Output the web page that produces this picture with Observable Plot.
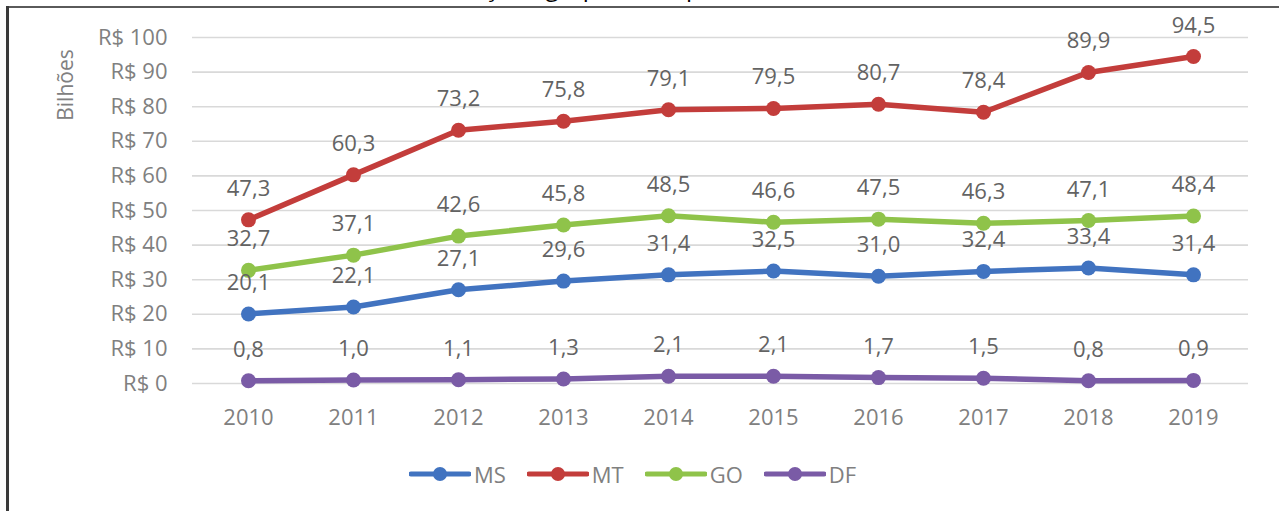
<!DOCTYPE html>
<html>
<head>
<meta charset="utf-8">
<script src="https://cdn.jsdelivr.net/npm/d3@7"></script>
<script src="https://cdn.jsdelivr.net/npm/@observablehq/plot@0.6"></script>
<style>
  html, body { margin: 0; padding: 0; background: #fff; }
  #wrap { position: relative; width: 1279px; height: 511px; overflow: hidden; font-family: "Open Sans", sans-serif; }
  #frameTop { position: absolute; left: 6px; top: 6px; width: 1273px; height: 0; border-top: 2px solid #5a5a5a; }
  #frameLeft { position: absolute; left: 6px; top: 6px; width: 0; height: 505px; border-left: 3px solid #3a3a3a; }
  #title { position: absolute; left: 249px; top: -30px; font-size: 24px; color: #000; white-space: nowrap; }
  #chart { position: absolute; left: 0; top: 0; }
  #ylab { position: absolute; left: 65px; top: 85px; transform: translate(-50%, -50%) rotate(-90deg); font-size: 21px; color: #808080; white-space: nowrap; }
  #legend { position: absolute; top: 459px; left: 0; width: 1265px; display: flex; justify-content: center; gap: 21px; }
  .item { display: flex; align-items: center; font-size: 22px; color: #808080; }
  .item svg { margin-right: 3px; }
</style>
</head>
<body>
<div id="wrap">
  <div id="title">Valor Bruto da Produção Agropecuária por estado</div>
  <div id="chart"></div>
  <div id="ylab">Bilhões</div>
  <div id="legend"></div>
  <div id="frameTop"></div>
  <div id="frameLeft"></div>
</div>
<script>
const years = ["2010","2011","2012","2013","2014","2015","2016","2017","2018","2019"];
const states = ["MS","MT","GO","DF"];
const colors = ["#4173c0","#c33d3b","#8fc34a","#7a5ba6"];
const msValues = [20.1, 22.1, 27.1, 29.6, 31.4, 32.5, 31.0, 32.4, 33.4, 31.4];
const mtValues = [47.3, 60.3, 73.2, 75.8, 79.1, 79.5, 80.7, 78.4, 89.9, 94.5];
const goValues = [32.7, 37.1, 42.6, 45.8, 48.5, 46.6, 47.5, 46.3, 47.1, 48.4];
const dfValues = [0.8, 1.0, 1.1, 1.3, 2.1, 2.1, 1.7, 1.5, 0.8, 0.9];
const yTicks = [0, 10, 20, 30, 40, 50, 60, 70, 80, 90, 100];

const series = [msValues, mtValues, goValues, dfValues];
const data = [];
states.forEach((s, i) => years.forEach((y, j) => data.push({state: s, year: y, value: series[i][j]})));

const fmt = v => v.toFixed(1).replace(".", ",");

const plot = Plot.plot({
  width: 1279,
  height: 440,
  marginLeft: 192,
  marginRight: 31,
  marginTop: 37,
  marginBottom: 57,
  style: {fontFamily: "'Open Sans', sans-serif", background: "transparent"},
  x: {type: "point", domain: years, padding: 0.5, label: null},
  y: {domain: [0, 100], label: null},
  color: {domain: states, range: colors},
  marks: [
    Plot.gridY(yTicks, {stroke: "#d9d9d9", strokeOpacity: 1, strokeWidth: 1.6}),
    Plot.axisY(yTicks, {tickSize: 0, tickPadding: 25, tickFormat: d => "R$ " + d, fontSize: 22, fill: "#808080", label: null}),
    Plot.axisX({tickSize: 0, tickPadding: 26, fontSize: 22, fill: "#808080", label: null}),
    Plot.line(data, {x: "year", y: "value", z: "state", stroke: "state", strokeWidth: 5.5, strokeLinejoin: "round", strokeLinecap: "round"}),
    Plot.dot(data, {x: "year", y: "value", fill: "state", r: 7.5, stroke: "none"}),
    Plot.text(data, {x: "year", y: "value", text: d => fmt(d.value), dy: -31, fontSize: 22, fill: "#636363"})
  ]
});
document.getElementById("chart").appendChild(plot);

const legend = document.getElementById("legend");
states.forEach((s, i) => {
  const item = document.createElement("div");
  item.className = "item";
  item.innerHTML = `<svg width="62" height="20"><line x1="2" y1="10" x2="60" y2="10" stroke="${colors[i]}" stroke-width="5" stroke-linecap="round"/><circle cx="31" cy="10" r="7" fill="${colors[i]}"/></svg><span>${s}</span>`;
  legend.appendChild(item);
});
</script>
</body>
</html>
